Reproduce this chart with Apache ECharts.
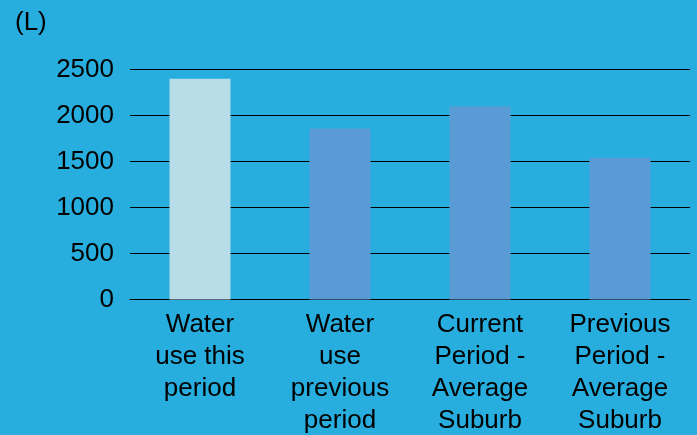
<!DOCTYPE html>
<html>
<head>
<meta charset="utf-8">
<script src="https://cdn.jsdelivr.net/npm/echarts@6/dist/echarts.min.js"></script>
<style>
html,body{margin:0;padding:0;background:#27AEDF;}
#chart{width:697px;height:435px;}
</style>
</head>
<body>
<div id="chart"></div>
<script>
var categories = [
  "Water\nuse this\nperiod",
  "Water\nuse\nprevious\nperiod",
  "Current\nPeriod -\nAverage\nSuburb",
  "Previous\nPeriod -\nAverage\nSuburb"
];
var values = [2400, 1860, 2100, 1540];
var yTicks = { min: 0, max: 2500, interval: 500 };
var unitLabel = "(L)";

var barColors = ["#B8DCE8", "#5B9BD5", "#5B9BD5", "#5B9BD5"];
var font = "Liberation Sans, Arial, sans-serif";

var chart = echarts.init(document.getElementById('chart'));
chart.setOption({
  backgroundColor: "#27AEDF",
  animation: false,
  title: {
    text: unitLabel,
    left: 10, top: 5,
    textStyle: { fontFamily: font, fontSize: 26, fontWeight: "normal", color: "#000" }
  },
  grid: {
    left: 130, right: 7, top: 69.5, bottom: 135.5,
    containLabel: false, outerBoundsMode: "none"
  },
  xAxis: {
    type: "category",
    data: categories,
    axisLine: { show: true, lineStyle: { color: "#000", width: 1 } },
    axisTick: { show: false },
    axisLabel: {
      interval: 0, margin: 9,
      fontFamily: font, fontSize: 26, lineHeight: 32, color: "#000", align: "center"
    }
  },
  yAxis: {
    type: "value",
    min: yTicks.min, max: yTicks.max, interval: yTicks.interval,
    axisLine: { show: false },
    axisTick: { show: false },
    splitLine: { lineStyle: { color: "#000", width: 1 } },
    axisLabel: {
      margin: 16, fontFamily: font, fontSize: 26, color: "#000",
      padding: [3, 0, 0, 0],
      formatter: function (v) { return String(v); }
    }
  },
  series: [{
    type: "bar",
    barWidth: 61,
    data: values.map(function (v, i) {
      return { value: v, itemStyle: { color: barColors[i] } };
    })
  }]
});
</script>
</body>
</html>
